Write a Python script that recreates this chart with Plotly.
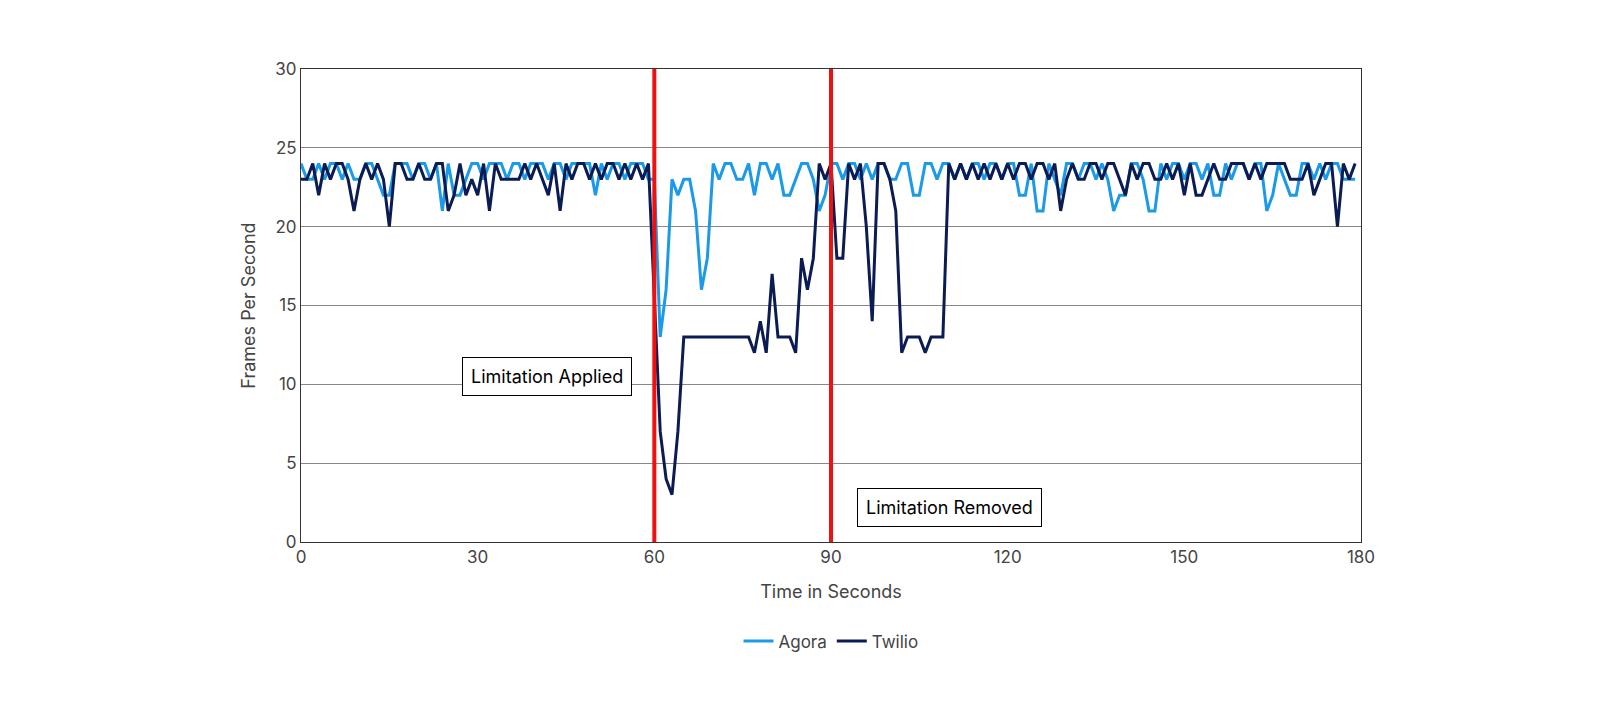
import plotly.graph_objects as go

seconds = list(range(180))
agora = [24,23,23,24,23,24,24,23,24,23,23,24,24,23,22,22,24,24,24,23,24,24,23,24,21,24,22,22,23,24,
         24,23,24,24,24,23,24,24,23,24,24,24,23,24,24,23,24,24,24,24,22,24,23,24,24,23,24,24,24,23,
         23,13,16,23,22,23,23,21,16,18,24,23,24,24,23,23,24,22,24,24,23,24,22,22,23,24,24,23,21,22,
         24,24,23,24,24,23,24,23,24,24,23,23,24,24,22,22,24,24,23,24,24,23,24,23,24,24,23,24,24,23,
         24,24,22,22,24,21,21,24,23,22,24,24,23,24,24,23,24,23,21,22,22,24,24,23,21,21,24,23,24,24,
         23,24,24,23,24,22,22,24,23,24,24,23,24,24,21,22,24,23,22,22,24,24,23,24,23,24,24,23,23,23]
twilio = [23,23,24,22,24,23,24,24,23,21,23,24,23,24,23,20,24,24,23,23,24,23,23,24,24,21,22,24,22,23,
          22,24,21,24,23,23,23,23,24,23,24,23,22,24,21,24,23,24,24,23,24,23,24,24,23,24,23,24,23,24,
          15,7,4,3,7,13,13,13,13,13,13,13,13,13,13,13,13,12,14,12,17,13,13,13,12,18,16,18,24,23,
          24,18,18,24,23,24,20,14,24,24,23,21,12,13,13,13,12,13,13,13,24,23,24,23,24,23,24,23,24,23,
          24,23,24,24,23,24,24,23,24,21,23,24,23,23,24,24,23,24,24,23,22,24,23,24,24,23,23,24,23,24,
          22,24,22,22,23,24,23,23,24,24,24,23,24,23,24,24,24,24,23,23,23,24,22,23,24,24,20,24,23,24]
event_x = [60, 90]
event_labels = ["Limitation Applied", "Limitation Removed"]
label_pos = [(41.8, 10.5), (110.2, 2.2)]

fig = go.Figure()
fig.add_trace(go.Scatter(x=seconds, y=agora, mode="lines", name="Agora",
                         line=dict(color="#1a9ae8", width=3)))
fig.add_trace(go.Scatter(x=seconds, y=twilio, mode="lines", name="Twilio",
                         line=dict(color="#0b1c54", width=3)))
for ex in event_x:
    fig.add_shape(type="line", x0=ex, x1=ex, y0=0, y1=30, xref="x", yref="y",
                  line=dict(color="#ee1111", width=4))
for (lx, ly), t in zip(label_pos, event_labels):
    fig.add_annotation(x=lx, y=ly, text=t, showarrow=False, bgcolor="white",
                       bordercolor="black", borderwidth=1, borderpad=8,
                       font=dict(size=18, color="black"))

fig.update_layout(
    width=1600, height=720, paper_bgcolor="white", plot_bgcolor="white",
    margin=dict(l=293, r=247, t=61, b=186),
    font=dict(family="Inter, Open Sans, sans-serif", size=17, color="#444"),
    showlegend=True,
    legend=dict(orientation="h", x=0.5, xanchor="center", y=-0.21, yanchor="middle",
                font=dict(size=17, color="#444")),
    xaxis=dict(range=[0, 180], tickvals=[0, 30, 60, 90, 120, 150, 180], showgrid=False,
               showline=True, linecolor="#333", mirror=True, ticks="", zeroline=False,
               title=dict(text="Time in Seconds", font=dict(size=18), standoff=18)),
    yaxis=dict(range=[0, 30], tickvals=[0, 5, 10, 15, 20, 25, 30], showgrid=True,
               gridcolor="#888", gridwidth=1, showline=True, linecolor="#333", mirror=True,
               zeroline=False, ticks="", title=dict(text="Frames Per Second", font=dict(size=18))),
)
fig.write_html("out.html")
